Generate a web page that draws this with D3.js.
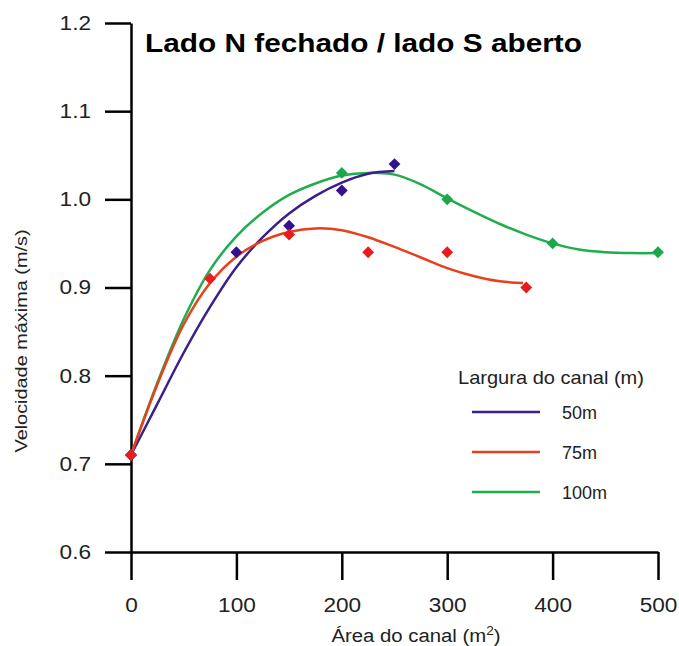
<!DOCTYPE html>
<html>
  <meta charset="utf-8">
  <head>
    <script type="text/javascript" src="https://cdn.jsdelivr.net/npm/d3@7/dist/d3.min.js"></script>
    <style>
      body { margin: 0; background: #fff; }
      text { font-family: "Liberation Sans", Arial, sans-serif; }
    </style>
  </head>
  <body>
<svg width="679" height="646"></svg>
<script type="text/javascript">

	// ticks
	var xTicks = [0, 100, 200, 300, 400, 500];
	var yTicks = [0.6, 0.7, 0.8, 0.9, 1.0, 1.1, 1.2];

	// series names + colours (legend order)
	var seriesNames = ["50m", "75m", "100m"];
	var lineColors = ["#3b1f8a", "#e8401c", "#1fae4b"];
	var dotColors = ["#35108f", "#e81c1c", "#1aa84a"];

	// measured points (area m2, velocidade m/s)
	var pts50 = [[0, 0.71], [100, 0.94], [150, 0.97], [200, 1.01], [250, 1.04]];
	var pts75 = [[0, 0.71], [75, 0.91], [150, 0.96], [225, 0.94], [300, 0.94], [375, 0.90]];
	var pts100 = [[0, 0.71], [200, 1.03], [300, 1.00], [400, 0.95], [500, 0.94]];

	// trend curves
	var fit50 = [[0, 0.71], [25, 0.768], [50, 0.826], [75, 0.878], [100, 0.923], [125, 0.957],
		[150, 0.984], [175, 1.004], [200, 1.019], [225, 1.029], [250, 1.032]];
	var fit75 = [[0, 0.71], [25, 0.79], [50, 0.858], [75, 0.905], [100, 0.935], [125, 0.953],
		[150, 0.963], [175, 0.967], [200, 0.965], [225, 0.957], [250, 0.946], [275, 0.934],
		[300, 0.922], [325, 0.913], [350, 0.907], [372, 0.905]];
	var fit100 = [[0, 0.71], [25, 0.792], [50, 0.864], [75, 0.92], [100, 0.958], [125, 0.985],
		[150, 1.005], [175, 1.018], [200, 1.027], [225, 1.030], [250, 1.028], [275, 1.017],
		[300, 1.001], [325, 0.986], [350, 0.972], [375, 0.960], [400, 0.950], [425, 0.943],
		[450, 0.940], [475, 0.939], [500, 0.939]];

	var svg = d3.select("svg"),
	    margin = {top: 23, right: 21, bottom: 94, left: 131},
	    width = +svg.attr("width") - margin.left - margin.right,
	    height = +svg.attr("height") - margin.top - margin.bottom,
	    g = svg.append("g").attr("transform", "translate(" + margin.left + "," + margin.top + ")");

	// the source text is a bit wider than Arial, widen glyphs
	function stretch(sel, k) {
		sel.each(function() {
			var w = this.getComputedTextLength();
			d3.select(this).attr("textLength", w * k).attr("lengthAdjust", "spacingAndGlyphs");
		});
	}

	var x = d3.scaleLinear().domain([0, 500]).range([0, width]);
	var y = d3.scaleLinear().domain([0.6, 1.2]).range([height, 0]);

	// axes
	var xAxis = g.append("g")
	    .attr("transform", "translate(0," + height + ")")
	    .call(d3.axisBottom(x).tickValues(xTicks).tickSize(28).tickSizeOuter(0).tickPadding(18));

	var yAxis = g.append("g")
	    .call(d3.axisLeft(y).tickValues(yTicks).tickSize(26).tickSizeOuter(0).tickPadding(14)
	      .tickFormat(d3.format(".1f")));

	[xAxis, yAxis].forEach(function(a) {
		a.selectAll("path, line").attr("stroke", "#000").attr("stroke-width", 2.5);
		a.selectAll("text").attr("fill", "#222").style("font-size", "20px");
		stretch(a.selectAll("text"), 1.13);
	});

	// axis titles
	svg.append("text")
	    .attr("transform", "translate(416,642) scale(1.13,1)")
	    .attr("text-anchor", "middle")
	    .style("font-size", "18px")
	    .attr("fill", "#222")
	    .html("Área do canal (m<tspan dy='-7' style='font-size:12px'>2</tspan><tspan dy='7'>)</tspan>");

	var yt = svg.append("text")
	    .attr("transform", "translate(27,341) rotate(-90)")
	    .attr("text-anchor", "middle")
	    .style("font-size", "17px")
	    .attr("fill", "#222")
	    .text("Velocidade máxima (m/s)");
	yt.attr("textLength", 223).attr("lengthAdjust", "spacingAndGlyphs");

	// title
	svg.append("text")
	    .attr("x", 145)
	    .attr("y", 52)
	    .style("font-size", "26px")
	    .style("font-weight", "bold")
	    .attr("fill", "#000")
	    .attr("textLength", 437)
	    .attr("lengthAdjust", "spacingAndGlyphs")
	    .text("Lado N fechado / lado S aberto");

	var line = d3.line()
	    .curve(d3.curveCatmullRom.alpha(0.5))
	    .x(function(d) { return x(d[0]); })
	    .y(function(d) { return y(d[1]); });

	var fits = [fit50, fit75, fit100];
	var pts = [pts50, pts75, pts100];
	var order = [2, 0, 1]; // green under, red on top

	order.forEach(function(i) {
		g.append("path")
		    .datum(fits[i])
		    .attr("fill", "none")
		    .attr("stroke", lineColors[i])
		    .attr("stroke-width", 2.5)
		    .attr("stroke-linejoin", "round")
		    .attr("d", line);
	});

	// square turned 45deg = diamond like the original
	var diamond = d3.symbol().type(d3.symbolSquare).size(70);
	order.forEach(function(i) {
		g.selectAll(".dot" + i)
		    .data(pts[i])
		    .enter().append("path")
		    .attr("class", "dot" + i)
		    .attr("transform", function(d) { return "translate(" + x(d[0]) + "," + y(d[1]) + ") rotate(45)"; })
		    .attr("fill", dotColors[i])
		    .attr("d", diamond);
	});

	// legend
	var legend = svg.append("g");
	var lt = legend.append("text")
	    .attr("x", 458)
	    .attr("y", 384)
	    .style("font-size", "18.5px")
	    .attr("fill", "#222")
	    .text("Largura do canal (m)");
	lt.attr("textLength", 186).attr("lengthAdjust", "spacingAndGlyphs");

	seriesNames.forEach(function(name, i) {
		var ly = 412 + i * 40;
		legend.append("line")
		    .attr("x1", 472).attr("x2", 540)
		    .attr("y1", ly).attr("y2", ly)
		    .attr("stroke", lineColors[i])
		    .attr("stroke-width", 2.5);
		legend.append("text")
		    .attr("x", 562)
		    .attr("y", ly + 7)
		    .style("font-size", "18px")
		    .attr("fill", "#222")
		    .text(name);
	});

</script>
  </body>
</html>
